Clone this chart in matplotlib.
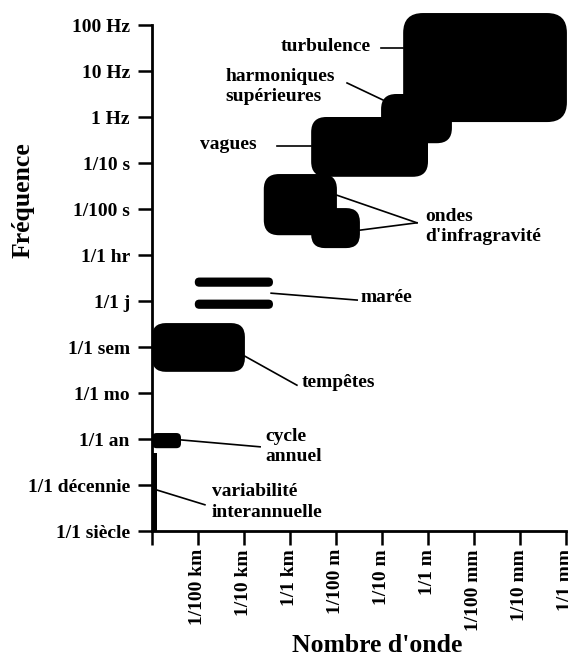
import matplotlib
matplotlib.use("Agg")
import matplotlib.pyplot as plt
from matplotlib.patches import FancyBboxPatch

plt.rcParams['font.family'] = ['Liberation Serif', 'DejaVu Serif']
plt.rcParams['font.weight'] = 'bold'

# axes categories (log-decade steps)
freq_labels = ['1/1 siècle', '1/1 décennie', '1/1 an', '1/1 mo', '1/1 sem',
               '1/1 j', '1/1 hr', '1/100 s', '1/10 s', '1 Hz', '10 Hz', '100 Hz']
wave_labels = ['', '1/100 km', '1/10 km', '1/1 km', '1/100 m', '1/10 m',
               '1/1 m', '1/100 mm', '1/10 mm', '1/1 mm']

# phenomena ranges in tick units
phen_names = ['turbulence', 'harmoniques', 'vagues', 'ondes1', 'ondes2',
              'maree1', 'maree2', 'tempetes', 'cycle', 'variabilite']
x_lo = [5.46, 4.98, 3.46, 2.43, 3.46, 0.93, 0.93, 0.00, 0.00, 0.00]
x_hi = [9.02, 6.52, 6.00, 4.02, 4.52, 2.63, 2.63, 2.02, 0.63, 0.11]
y_lo = [8.89, 8.43, 7.70, 6.43, 6.15, 5.31, 4.83, 3.46, 1.80, 0.00]
y_hi = [11.26, 9.50, 9.00, 7.76, 7.02, 5.51, 5.03, 4.52, 2.13, 1.70]
radius = [0.43, 0.33, 0.33, 0.33, 0.3, 0.1, 0.1, 0.3, 0.1, 0.0]

fig = plt.figure(figsize=(5.68, 6.57), dpi=100)
ax = fig.add_axes([152/568, 126/657, 414/568, 506/657])

for i in range(len(phen_names)):
    w = x_hi[i] - x_lo[i]
    h = y_hi[i] - y_lo[i]
    if radius[i] > 0:
        style = "round,pad=0,rounding_size=%g" % radius[i]
    else:
        style = "square,pad=0"
    p = FancyBboxPatch((x_lo[i], y_lo[i]), w, h, boxstyle=style,
                       fc='black', ec='none', clip_on=False, zorder=3)
    ax.add_patch(p)

# labels and leader lines
lw = 1.2
fs = 14
ls = 1.25
ax.plot([4.98, 5.46], [10.5, 10.5], color='black', lw=lw, clip_on=False)
ax.text(4.76, 10.54, 'turbulence', ha='right', va='center', fontsize=fs)

ax.plot([4.24, 5.02], [9.74, 9.37], color='black', lw=lw, clip_on=False)
ax.text(1.59, 9.67, 'harmoniques\nsupérieures', ha='left', va='center',
        fontsize=fs, linespacing=ls)

ax.plot([2.72, 3.46], [8.37, 8.37], color='black', lw=lw, clip_on=False)
ax.text(2.28, 8.40, 'vagues', ha='right', va='center', fontsize=fs)

ax.plot([4.02, 5.76], [7.30, 6.70], color='black', lw=lw, clip_on=False)
ax.plot([4.52, 5.76], [6.54, 6.70], color='black', lw=lw, clip_on=False)
ax.text(5.93, 6.62, "ondes\nd'infragravité", ha='left', va='center',
        fontsize=fs, linespacing=ls)

ax.plot([2.59, 4.46], [5.17, 5.02], color='black', lw=lw, clip_on=False)
ax.text(4.54, 5.07, 'marée', ha='left', va='center', fontsize=fs)

ax.plot([2.02, 3.15], [3.80, 3.17], color='black', lw=lw, clip_on=False)
ax.text(3.26, 3.22, 'tempêtes', ha='left', va='center', fontsize=fs)

ax.plot([0.63, 2.35], [1.98, 1.83], color='black', lw=lw, clip_on=False)
ax.text(2.46, 1.83, 'cycle\nannuel', ha='left', va='center',
        fontsize=fs, linespacing=ls)

ax.plot([0.11, 1.15], [0.89, 0.57], color='black', lw=lw, clip_on=False)
ax.text(1.30, 0.63, 'variabilité\ninterannuelle', ha='left', va='center',
        fontsize=fs, linespacing=ls)

ax.set_xlim(0, 9)
ax.set_ylim(0, 11)
ax.set_yticks(range(len(freq_labels)))
ax.set_yticklabels(freq_labels, fontsize=14)
ax.set_xticks(range(len(wave_labels)))
ax.set_xticklabels(wave_labels, fontsize=14, rotation=90)

for s in ['top', 'right']:
    ax.spines[s].set_visible(False)
for s in ['left', 'bottom']:
    ax.spines[s].set_linewidth(2)
ax.tick_params(axis='both', length=10, width=1.8, color='black')
ax.tick_params(axis='y', pad=6)
ax.tick_params(axis='x', pad=3)

fig.text(23/568, 1 - 200/657, 'Fréquence', rotation=90, ha='center',
         va='center', fontsize=18.5)
fig.text(377/568, 1 - 645/657, "Nombre d'onde", ha='center', va='center',
         fontsize=18.5)

fig.savefig('out.png', dpi=100)
